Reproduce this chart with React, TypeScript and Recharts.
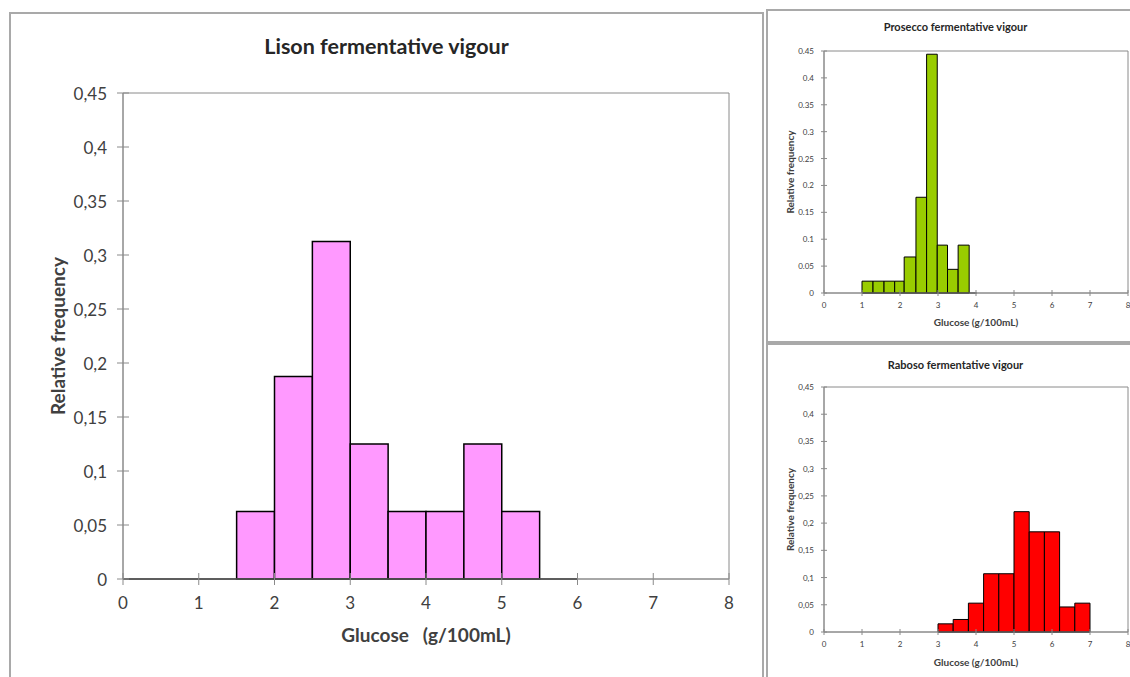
import React from "react";
import { ComposedChart, XAxis, YAxis, ReferenceArea, ReferenceLine } from "recharts";

// Histogram bins: edges are bin boundaries (g/100mL), freq the relative frequency per bin.
const lisonEdges = [0, 0.5, 1, 1.5, 2, 2.5, 3, 3.5, 4, 4.5, 5, 5.5, 6];
const lisonFreq = [0, 0, 0, 0.0625, 0.1875, 0.3125, 0.125, 0.0625, 0.0625, 0.125, 0.0625, 0];

const proseccoEdges = [1.0, 1.29, 1.58, 1.86, 2.11, 2.42, 2.7, 2.98, 3.25, 3.53, 3.82, 4.02];
const proseccoFreq = [0.022, 0.022, 0.022, 0.022, 0.067, 0.178, 0.444, 0.089, 0.044, 0.089, 0];

const rabosoEdges = [3.0, 3.4, 3.8, 4.2, 4.6, 5.0, 5.4, 5.8, 6.2, 6.6, 7.0];
const rabosoFreq = [0.015, 0.023, 0.053, 0.107, 0.107, 0.221, 0.184, 0.184, 0.046, 0.053];

const glucoseTicks = [0, 1, 2, 3, 4, 5, 6, 7, 8];
const freqTicks = [0, 0.05, 0.1, 0.15, 0.2, 0.25, 0.3, 0.35, 0.4, 0.45];

const AXIS_GRAY = "#8a8a8a";
const TEXT = "#404040";
const FONT = "Lato, 'Open Sans', sans-serif";

type Sizing = {
  width: number;
  height: number;
  margin: { top: number; right: number; bottom: number; left: number };
  yAxisWidth: number;
  xAxisHeight: number;
  tickFont: number;
  labelFont: number;
  titleFont: number;
  titleY: number;
  titleShift: number;
  tickSize: number;
  yTickMargin: number;
  xTickMargin: number;
  yLabelOffset: number;
  xLabelOffset: number;
  xLabel: string;
  barStroke: number;
};

function Histogram({
  title,
  edges,
  freq,
  color,
  comma,
  s,
}: {
  title: string;
  edges: number[];
  freq: number[];
  color: string;
  comma: boolean;
  s: Sizing;
}) {
  const bins = freq.map((f, i) => ({ x0: edges[i], x1: edges[i + 1], freq: f }));
  const fmt = (v: number) => (comma ? String(v).replace(".", ",") : String(v));

  // Excel-style "cross" tick marks: the mark straddles the axis line
  const yTick = (p: any) => {
    const ax = p.x + s.tickSize + s.yTickMargin;
    return (
      <g>
        <line x1={ax - s.tickSize} x2={ax + s.tickSize} y1={p.y} y2={p.y} stroke={AXIS_GRAY} />
        <text x={p.x} y={p.y} textAnchor="end" dominantBaseline="central" fontSize={s.tickFont} fill={TEXT} fontFamily={FONT}>
          {fmt(p.payload.value)}
        </text>
      </g>
    );
  };

  const xTick = (p: any) => {
    const ay = p.y - s.tickSize - s.xTickMargin;
    return (
      <g>
        <line x1={p.x} x2={p.x} y1={ay - s.tickSize} y2={ay + s.tickSize} stroke={AXIS_GRAY} />
        <text x={p.x} y={p.y} dy="0.71em" textAnchor="middle" fontSize={s.tickFont} fill={TEXT} fontFamily={FONT}>
          {p.payload.value}
        </text>
      </g>
    );
  };

  return (
    <div style={{ position: "relative", width: s.width, height: s.height }}>
      <div
        style={{
          position: "absolute",
          left: s.titleShift,
          width: s.width,
          top: s.titleY - s.titleFont * 0.6,
          textAlign: "center",
          fontFamily: FONT,
          fontWeight: 700,
          fontSize: s.titleFont,
          lineHeight: `${s.titleFont * 1.2}px`,
          color: "#262626",
        }}
      >
        {title}
      </div>
      <ComposedChart width={s.width} height={s.height} data={bins} margin={s.margin}>
        <XAxis
          type="number"
          dataKey="x0"
          domain={[0, 8]}
          ticks={glucoseTicks}
          interval={0}
          allowDataOverflow
          height={s.xAxisHeight}
          tickSize={s.tickSize}
          tickMargin={s.xTickMargin}
          tickLine={false}
          tick={xTick}
          axisLine={{ stroke: AXIS_GRAY }}
          label={{
            value: s.xLabel,
            position: "insideBottom",
            offset: s.xLabelOffset,
            style: { fontSize: s.labelFont, fontWeight: 700, fill: TEXT, fontFamily: FONT },
          }}
        />
        <YAxis
          type="number"
          domain={[0, 0.45]}
          ticks={freqTicks}
          interval={0}
          allowDataOverflow
          width={s.yAxisWidth}
          tickSize={s.tickSize}
          tickMargin={s.yTickMargin}
          tickLine={false}
          tick={yTick}
          axisLine={{ stroke: AXIS_GRAY }}
          label={{
            value: "Relative frequency",
            angle: -90,
            position: "insideLeft",
            offset: s.yLabelOffset,
            style: { textAnchor: "middle", fontSize: s.labelFont, fontWeight: 700, fill: TEXT, fontFamily: FONT },
          }}
        />
        {/* plot frame */}
        <ReferenceArea x1={0} x2={8} y1={0} y2={0.45} fill="none" fillOpacity={0} stroke={AXIS_GRAY} strokeWidth={1} />
        {bins
          .filter((b) => b.freq > 0)
          .map((b, i) => (
            <ReferenceArea
              key={i}
              x1={b.x0}
              x2={b.x1}
              y1={0}
              y2={b.freq}
              fill={color}
              fillOpacity={1}
              stroke="#000"
              strokeWidth={s.barStroke}
            />
          ))}
        {/* empty bins show as a black run along the baseline */}
        <ReferenceLine
          segment={[
            { x: edges[0], y: 0 },
            { x: edges[edges.length - 1], y: 0 },
          ]}
          stroke="#000"
          strokeWidth={s.barStroke}
        />
      </ComposedChart>
    </div>
  );
}

const big: Sizing = {
  width: 753,
  height: 665,
  margin: { top: 81, right: 34, bottom: 28, left: 18 },
  yAxisWidth: 95,
  xAxisHeight: 70,
  tickFont: 17,
  labelFont: 19,
  titleFont: 21.5,
  titleY: 35,
  titleShift: 0,
  tickSize: 6,
  yTickMargin: 10,
  xTickMargin: 12,
  yLabelOffset: 30,
  xLabelOffset: 7,
  xLabel: "Glucose\u00a0\u00a0\u00a0(g/100mL)",
  barStroke: 1.5,
};

const small: Sizing = {
  width: 363,
  height: 331,
  margin: { top: 41, right: 2, bottom: 12, left: 12 },
  yAxisWidth: 45,
  xAxisHeight: 36,
  tickFont: 8,
  labelFont: 10,
  titleFont: 11,
  titleY: 17,
  titleShift: 7,
  tickSize: 3,
  yTickMargin: 7,
  xTickMargin: 6,
  yLabelOffset: 11,
  xLabelOffset: 3,
  xLabel: "Glucose (g/100mL)",
  barStroke: 1,
};

const smallLower: Sizing = {
  ...small,
  height: 333,
  margin: { top: 43, right: 2, bottom: 9, left: 12 },
  titleY: 21,
  xLabelOffset: 2,
};

const frame = (left: number, top: number, width: number, height: number): React.CSSProperties => ({
  position: "absolute",
  left,
  top,
  width,
  height,
  boxSizing: "border-box",
  border: "2px solid #a9a9a9",
});

export default function App() {
  return (
    <div
      style={{
        position: "absolute",
        left: 0,
        top: 0,
        width: 1130,
        height: 677,
        overflow: "hidden",
        background: "#fff",
        fontFamily: FONT,
      }}
    >
      <div style={frame(9, 12, 755, 700)} />
      <div style={frame(766, 9, 380, 334)} />
      <div style={frame(766, 343, 380, 360)} />
      <div style={{ position: "absolute", left: 10, top: 12 }}>
        <Histogram title="Lison fermentative vigour" edges={lisonEdges} freq={lisonFreq} color="#ff99ff" comma s={big} />
      </div>
      <div style={{ position: "absolute", left: 767, top: 10 }}>
        <Histogram title="Prosecco fermentative vigour" edges={proseccoEdges} freq={proseccoFreq} color="#99cc00" comma={false} s={small} />
      </div>
      <div style={{ position: "absolute", left: 767, top: 344 }}>
        <Histogram title="Raboso fermentative vigour" edges={rabosoEdges} freq={rabosoFreq} color="#ff0000" comma s={smallLower} />
      </div>
    </div>
  );
}
